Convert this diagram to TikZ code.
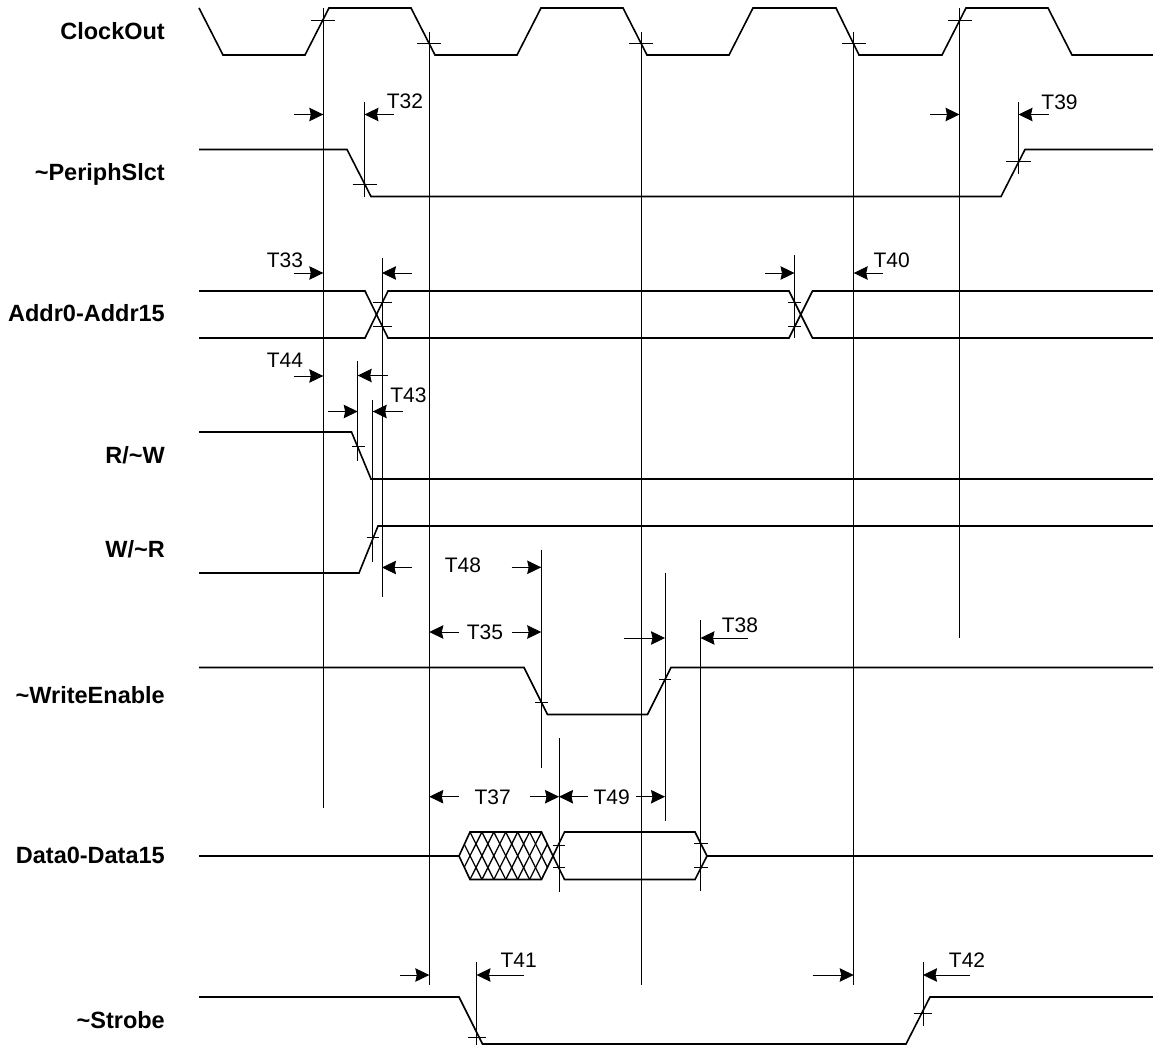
\documentclass[tikz,border=0pt]{standalone}
\usepackage{fontspec}
\setmainfont{Liberation Sans}
\usetikzlibrary{arrows.meta}
\tikzset{
  wave/.style={line width=1.6pt,line join=miter},
  guide/.style={line width=0.9pt},
  tick/.style={line width=0.6pt},
  dim/.style={line width=0.8pt,-{Stealth[length=14pt,width=13.5pt,inset=1.5pt]}},
  sig/.style={anchor=base east,inner sep=0pt,font=\fontsize{23.5}{25}\selectfont\bfseries},
  tlab/.style={anchor=center,inner sep=0pt,font=\fontsize{21}{23}\selectfont},
}
\newcommand{\gd}[3]{\draw[guide] (#1,#2) -- (#1,#3);}
\newcommand{\tk}[3]{\draw[tick] (#1,#3) -- (#2,#3);}
\newcommand{\dm}[3]{\draw[dim] (#1,#3) -- (#2,#3);}
\begin{document}
\begin{tikzpicture}[x=1pt,y=-1pt]
\useasboundingbox (0,0) rectangle (1153,1046);
% signal names
\node[sig] (nclk) at (165,39.5) {ClockOut};
\node[sig] (nps) at (165,180.5) {\textasciitilde PeriphSlct};
\node[sig] (nadr) at (165,321.5) {Addr0-Addr15};
\node[sig] (nrw) at (165,463) {R/\textasciitilde W};
\node[sig] (nwr) at (165,557) {W/\textasciitilde R};
\node[sig] (nwe) at (165,703) {\textasciitilde WriteEnable};
\node[sig] (ndat) at (165,863) {Data0-Data15};
\node[sig] (nstb) at (165,1028) {\textasciitilde Strobe};
% waveforms
\draw[wave] (199,8) -- (223,55) -- (305,55) -- (329,8) -- (411,8) -- (435,55) -- (517,55) -- (541,8) -- (623,8) -- (647,55) -- (729,55) -- (753,8) -- (836,8) -- (859,55) -- (942,55) -- (966,8) -- (1048,8) -- (1072,55) -- (1153,55);
\draw[wave] (199,149.5) -- (347,149.5) -- (371,196.5) -- (1001,196.5) -- (1025,149.5) -- (1153,149.5);
\draw[wave] (199,291) -- (365,291) -- (388,338) -- (789,338) -- (812.5,291) -- (1153,291);
\draw[wave] (199,338) -- (365,338) -- (388,291) -- (789,291) -- (812.5,338) -- (1153,338);
\draw[wave] (199,432) -- (351.5,432) -- (371,479) -- (1153,479);
\draw[wave] (199,573) -- (359,573) -- (378,526) -- (1153,526);
\draw[wave] (199,667.5) -- (524,667.5) -- (547.5,714.5) -- (647.5,714.5) -- (671,667.5) -- (1153,667.5);
\draw[wave] (199,856) -- (459,856);
\begin{scope}
\clip (459,856) -- (470,832) -- (541.5,832) -- (553,856) -- (541.5,879.5) -- (470,879.5) -- cycle;
\foreach \k in {-3,...,9}{
  \draw[line width=1.3pt] ({470+11.92*\k},832) -- ({470+11.92*(\k+2)},879.5);
  \draw[line width=1.3pt] ({470+11.92*\k},879.5) -- ({470+11.92*(\k+2)},832);
}
\end{scope}
\draw[wave] (459,856) -- (470,832) -- (541.5,832) -- (553,856) -- (541.5,879.5) -- (470,879.5) -- cycle;
\draw[wave] (553,856) -- (564.5,832) -- (695,832) -- (707,856) -- (695,879.5) -- (564.5,879.5) -- cycle;
\draw[wave] (707,856) -- (1153,856);
\draw[wave] (199,997) -- (459,997) -- (482.5,1044) -- (906,1044) -- (930,997) -- (1153,997);
% guides
\gd{323.3}{8}{808}
\gd{429.3}{32}{985}
\gd{641}{32}{985}
\gd{853.7}{32}{985}
\gd{959.5}{8}{638}
\gd{364.5}{102}{197}
\gd{1018.5}{102}{173.5}
\gd{382}{258}{597}
\gd{794.5}{255}{338}
\gd{357.7}{361}{461}
\gd{372.7}{400}{561.5}
\gd{541.2}{549.5}{767.5}
\gd{665}{573}{820.5}
\gd{700.5}{620}{891}
\gd{559}{738}{892}
\gd{476.5}{962}{1045}
\gd{923}{962}{1025.5}
% ticks
\tk{311}{335}{20}
\tk{947.5}{971.5}{20}
\tk{417}{441}{43.5}
\tk{629}{653}{43.5}
\tk{842}{866}{43.5}
\tk{352.5}{377}{184.5}
\tk{1006}{1031}{161}
\tk{373}{391.5}{302.5}
\tk{373}{391.5}{326}
\tk{788}{801}{302.5}
\tk{788}{801}{326}
\tk{352}{364.5}{446.7}
\tk{366.5}{379}{537.7}
\tk{535}{547.5}{702.5}
\tk{659}{671}{679}
\tk{553}{565}{845.5}
\tk{553}{565}{867.5}
\tk{694}{708}{843.7}
\tk{694}{708}{867.3}
\tk{467.5}{486}{1037.5}
\tk{913.5}{932}{1013}
% dimension arrows
\dm{293.7}{323.3}{114.5}
\dm{394}{364.5}{114.5}
\dm{930}{959.5}{114.5}
\dm{1048.5}{1018.5}{114.5}
\dm{293.5}{323.3}{273}
\dm{412}{382}{273}
\dm{765}{794.5}{273}
\dm{883}{853.7}{273}
\dm{293.5}{323.3}{376}
\dm{388}{357.7}{375.5}
\dm{328}{357.7}{411.5}
\dm{402.5}{372.7}{411.5}
\dm{412}{382}{567.5}
\dm{511.5}{541.2}{567.3}
\dm{459}{429.3}{632}
\dm{511.5}{541.2}{632}
\dm{623.5}{665}{638}
\dm{748}{700.5}{638}
\dm{459}{429.3}{796.7}
\dm{529.5}{559}{796.7}
\dm{588.3}{559}{796.7}
\dm{636}{665}{796.7}
\dm{400}{429.3}{975}
\dm{524}{476.5}{975}
\dm{812.5}{853.7}{975}
\dm{970}{923}{975}
% timing labels
\node[tlab] (t32) at (405,101) {T32};
\node[tlab] (t39) at (1059.5,102.5) {T39};
\node[tlab] (t33) at (285,260) {T33};
\node[tlab] (t40) at (891.7,260) {T40};
\node[tlab] (t44) at (285,360.5) {T44};
\node[tlab] (t43) at (408.5,395) {T43};
\node[tlab] (t48) at (463,565.7) {T48};
\node[tlab] (t35) at (485,632) {T35};
\node[tlab] (t38) at (740,625) {T38};
\node[tlab] (t37) at (492.7,797) {T37};
\node[tlab] (t49) at (611.7,797) {T49};
\node[tlab] (t41) at (518.6,960) {T41};
\node[tlab] (t42) at (967,960) {T42};
\end{tikzpicture}
\end{document}
